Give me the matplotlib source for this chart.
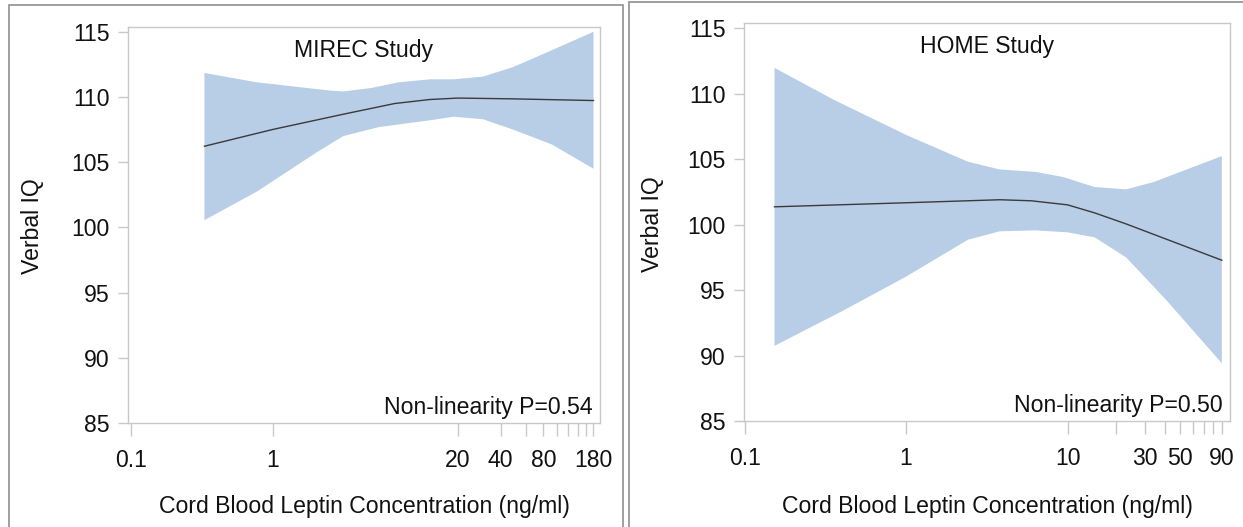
import matplotlib.pyplot as plt
from matplotlib.patches import Rectangle

plt.rcParams['font.family'] = ['Liberation Sans', 'DejaVu Sans']

# MIREC study (left panel)
mirec_x_upper = [0.33, 0.77, 2.59, 3.13, 4.89, 7.65, 12.7, 18.7, 30.1, 48.6, 71.3, 180]
mirec_upper = [111.87, 111.15, 110.5, 110.45, 110.71, 111.15, 111.38, 111.38, 111.59, 112.31, 113.09, 115.03]
mirec_x_lower = [0.33, 0.77, 2.0, 3.13, 5.56, 12.7, 18.7, 30.1, 48.6, 92, 180]
mirec_lower = [100.56, 102.75, 105.72, 107.02, 107.71, 108.23, 108.51, 108.31, 107.53, 106.37, 104.51]
mirec_x_mid = [0.33, 1.0, 3.13, 7.18, 12.7, 20, 48.6, 180]
mirec_mid = [106.24, 107.53, 108.7, 109.52, 109.83, 109.94, 109.88, 109.75]

# HOME study (right panel)
home_x_upper = [0.153, 0.356, 1.0, 2.42, 3.8, 6.3, 9.37, 14.7, 23.1, 34.3, 90.3]
home_upper = [111.97, 109.54, 106.85, 104.8, 104.21, 104.03, 103.64, 102.87, 102.69, 103.26, 105.23]
home_x_lower = [0.153, 0.40, 1.0, 2.42, 3.8, 6.3, 10, 14.7, 23.1, 40.6, 90.3]
home_lower = [90.74, 93.38, 96.03, 98.85, 99.49, 99.56, 99.41, 99.03, 97.49, 94.28, 89.41]
home_x_mid = [0.153, 1.0, 3.8, 5.97, 10, 14.7, 23.1, 90.3]
home_mid = [101.36, 101.67, 101.9, 101.82, 101.51, 100.9, 100.05, 97.28]

yticks = [85, 90, 95, 100, 105, 110, 115]
mirec_xticks = [0.1, 1, 20, 40, 60, 80, 100, 120, 140, 160, 180]
mirec_xlabels = ['0.1', '1', '20', '40', '', '80', '', '', '', '', '180']
home_xticks = [0.1, 1, 10, 20, 30, 40, 50, 60, 70, 80, 90]
home_xlabels = ['0.1', '1', '10', '', '30', '', '50', '', '', '', '90']

W, H = 1243, 527
FS = 16.6
band_color = '#b8cde6'
frame_color = '#c8c8c8'
text_color = '#111111'
fig = plt.figure(figsize=(W / 100, H / 100), dpi=100)


def px(x0, y0, x1, y1):
    return [x0 / W, 1 - y1 / H, (x1 - x0) / W, (y1 - y0) / H]


def make_panel(rect, xu, yu, xl, yl, xm, ym, xlim, xticks, xlabels, title, ptxt):
    ax = fig.add_axes(rect)
    ax.set_xscale('log')
    # band polygon: upper edge, then lower edge reversed
    ax.fill(list(xu) + list(xl)[::-1], list(yu) + list(yl)[::-1],
            color=band_color, lw=0)
    ax.plot(xm, ym, color='#3a3a3a', lw=1.0)
    ax.set_xlim(*xlim)
    ax.set_ylim(85, 115.4)
    ax.set_yticks(yticks)
    ax.set_yticklabels([str(v) for v in yticks])
    ax.set_xticks(xticks)
    ax.set_xticklabels(xlabels)
    ax.xaxis.set_minor_locator(plt.NullLocator())
    for s in ax.spines.values():
        s.set_color(frame_color)
        s.set_linewidth(1.0)
    ax.tick_params(axis='y', length=7, width=1, color=frame_color, pad=6,
                   labelsize=FS, labelcolor=text_color)
    ax.tick_params(axis='x', length=9, width=1, color=frame_color, pad=10,
                   labelsize=FS, labelcolor=text_color)
    ax.text(0.5, 0.925, title, transform=ax.transAxes, ha='center', va='baseline',
            fontsize=FS, color=text_color)
    ax.text(0.985, 0.022, ptxt, transform=ax.transAxes, ha='right', va='baseline',
            fontsize=FS, color=text_color)
    return ax


make_panel(px(128, 27, 600, 422.7), mirec_x_upper, mirec_upper, mirec_x_lower, mirec_lower,
           mirec_x_mid, mirec_mid, (0.0957, 200), mirec_xticks, mirec_xlabels,
           'MIREC Study', 'Non-linearity P=0.54')
make_panel(px(744, 23, 1230, 421), home_x_upper, home_upper, home_x_lower, home_lower,
           home_x_mid, home_mid, (0.099, 101.5), home_xticks, home_xlabels,
           'HOME Study', 'Non-linearity P=0.50')

# axis titles
fig.text(364 / W, 1 - 506 / H, 'Cord Blood Leptin Concentration (ng/ml)', ha='center', va='center',
         fontsize=FS, color=text_color)
fig.text(987 / W, 1 - 506 / H, 'Cord Blood Leptin Concentration (ng/ml)', ha='center', va='center',
         fontsize=FS, color=text_color)
fig.text(33 / W, 1 - 226 / H, 'Verbal IQ', ha='center', va='center', rotation=90,
         fontsize=FS, color=text_color)
fig.text(653 / W, 1 - 224 / H, 'Verbal IQ', ha='center', va='center', rotation=90,
         fontsize=FS, color=text_color)

# panel borders
fig.patches.append(Rectangle((9 / W, -0.05), (623 - 9) / W, 1.05 - 5 / H, transform=fig.transFigure,
                             fill=False, edgecolor='#8f8f8f', lw=1.2))
fig.patches.append(Rectangle((629 / W, -0.05), 0.6, 1.05 - 1.5 / H, transform=fig.transFigure,
                             fill=False, edgecolor='#8f8f8f', lw=1.2))

plt.savefig('out.png', dpi=100)
